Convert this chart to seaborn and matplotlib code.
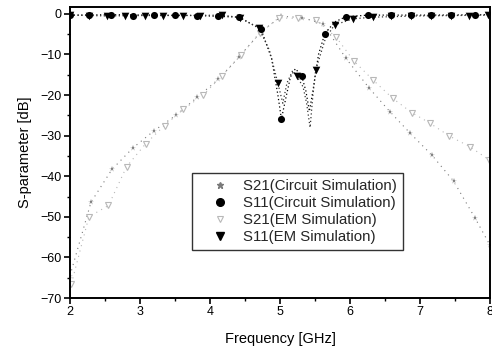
import matplotlib
matplotlib.use("Agg")
import matplotlib.pyplot as plt
from matplotlib.lines import Line2D
from matplotlib.ticker import MultipleLocator
import seaborn as sns

# ---------------- data ----------------
# S21, circuit simulation (markers + dotted line)
s21c_f = [2.0, 2.3, 2.6, 2.9, 3.2, 3.52, 3.82, 4.12, 4.41, 4.72, 5.02, 5.32,
          5.62, 5.94, 6.27, 6.57, 6.86, 7.17, 7.48, 7.79, 8.0]
s21c_db = [-64.5, -46.4, -38.3, -33.0, -28.8, -24.9, -20.5, -16.1, -10.7, -4.5,
           -0.6, -0.9, -2.5, -10.9, -18.2, -24.1, -29.4, -34.8, -41.2, -50.4, -57.0]

# S21, EM simulation
s21e_f = [2.02, 2.27, 2.55, 2.81, 3.08, 3.35, 3.62, 3.90, 4.17, 4.44, 4.71, 4.98,
          5.25, 5.52, 5.80, 6.06, 6.33, 6.61, 6.88, 7.14, 7.42, 7.71, 7.99]
s21e_db = [-66.5, -50.0, -47.2, -37.6, -32.0, -27.5, -23.5, -20.0, -15.3, -10.2,
           -4.8, -1.0, -1.1, -1.6, -5.7, -11.7, -16.3, -20.8, -24.3, -26.9, -30.1,
           -32.7, -36.0]

# S11, circuit simulation: marker positions
s11c_f = [2.0, 2.27, 2.59, 2.9, 3.2, 3.5, 3.81, 4.11, 4.41, 4.73, 5.02, 5.31,
          5.64, 5.94, 6.26, 6.58, 6.87, 7.16, 7.45, 7.79]
s11c_db = [-0.3, -0.3, -0.2, -0.4, -0.3, -0.3, -0.4, -0.5, -0.8, -3.8, -25.9,
           -15.3, -4.9, -0.7, -0.3, -0.3, -0.3, -0.3, -0.3, -0.2]
# S11, circuit simulation: dotted curve
s11c_curve_f = [2.0, 2.59, 3.2, 3.81, 4.41, 4.73, 4.88, 4.97, 5.02, 5.08, 5.15,
                5.22, 5.31, 5.37, 5.42, 5.47, 5.55, 5.64, 5.78, 5.94, 6.26, 7.0, 8.0]
s11c_curve_db = [-0.3, -0.2, -0.3, -0.4, -0.8, -3.8, -11.0, -20.0, -25.9, -21.0,
                 -15.5, -13.5, -15.3, -19.0, -24.0, -19.0, -10.0, -4.9, -2.0, -0.7,
                 -0.3, -0.3, -0.2]

# S11, EM simulation: marker positions
s11e_f = [2.0, 2.27, 2.53, 2.79, 3.07, 3.33, 3.61, 3.86, 4.17, 4.43, 4.70, 4.97,
          5.24, 5.51, 5.78, 6.05, 6.33, 6.59, 6.87, 7.16, 7.45, 7.70, 7.97]
s11e_db = [-0.3, -0.4, -0.5, -0.5, -0.4, -0.4, -0.4, -0.5, -0.3, -0.9, -3.5,
           -17.1, -15.3, -13.8, -2.7, -1.2, -0.8, -0.6, -0.5, -0.5, -0.5, -0.4, -0.3]
# S11, EM simulation: dotted curve
s11e_curve_f = [2.0, 2.53, 3.07, 3.61, 4.17, 4.43, 4.70, 4.85, 4.97, 5.04, 5.10,
                5.18, 5.24, 5.33, 5.38, 5.43, 5.47, 5.51, 5.65, 5.78, 6.05, 6.33,
                7.0, 8.0]
s11e_curve_db = [-0.3, -0.5, -0.4, -0.4, -0.3, -0.9, -3.5, -9.0, -17.1, -22.0,
                 -17.0, -14.0, -15.3, -18.0, -22.0, -28.0, -20.0, -13.8, -6.0,
                 -2.7, -1.2, -0.8, -0.5, -0.3]

labels = ["S21(Circuit Simulation)", "S11(Circuit Simulation)",
          "S21(EM Simulation)", "S11(EM Simulation)"]
x_ticks = [2, 3, 4, 5, 6, 7, 8]
y_ticks = [0, -10, -20, -30, -40, -50, -60, -70]

# ---------------- styling ----------------
sns.set_theme(style="ticks")
plt.rcParams["font.family"] = ["Liberation Sans", "DejaVu Sans"]

fig = plt.figure(figsize=(4.92, 3.47), dpi=100)
ax = fig.add_axes([70 / 492, 49 / 347, 420 / 492, 291 / 347])

c21c = "#7a7a7a"
c21e = "#b8b8b8"

# S21 circuit
sns.lineplot(x=s21c_f, y=s21c_db, ax=ax, color=c21c, linestyle=(0, (1, 4)),
             linewidth=0.8, sort=False, estimator=None, marker="*", markersize=5,
             markeredgewidth=0.3, legend=False)
# S21 EM
sns.lineplot(x=s21e_f, y=s21e_db, ax=ax, color=c21e, linestyle=(0, (1, 4)),
             linewidth=0.8, sort=False, estimator=None, marker="v", markersize=4.5,
             markerfacecolor="white", markeredgecolor=c21e, markeredgewidth=0.8,
             legend=False)
# S11 curves (dotted black)
sns.lineplot(x=s11c_curve_f, y=s11c_curve_db, ax=ax, color="black",
             linestyle=(0, (1, 2)), linewidth=0.9, sort=False, estimator=None,
             legend=False)
sns.lineplot(x=s11e_curve_f, y=s11e_curve_db, ax=ax, color="#333333",
             linestyle=(0, (1, 2)), linewidth=0.9, sort=False, estimator=None,
             legend=False)
# S11 markers
sns.scatterplot(x=s11c_f, y=s11c_db, ax=ax, color="black", marker="o", s=26,
                edgecolor="black", linewidth=0, legend=False, zorder=4)
sns.scatterplot(x=s11e_f, y=s11e_db, ax=ax, color="black", marker="v", s=30,
                edgecolor="black", linewidth=0, legend=False, zorder=4)

ax.set_xlim(2, 8)
ax.set_ylim(-70, 1.7)
ax.set_xticks(x_ticks)
ax.set_yticks(y_ticks)
ax.xaxis.set_minor_locator(MultipleLocator(0.5))
ax.yaxis.set_minor_locator(MultipleLocator(5))
ax.tick_params(axis="both", which="major", direction="out", length=4, width=1.2,
               labelsize=9, color="black", labelcolor="black", pad=2)
ax.tick_params(axis="both", which="minor", direction="out", length=2.5, width=1.0,
               color="black")
for sp in ax.spines.values():
    sp.set_visible(True)
    sp.set_linewidth(1.4)
    sp.set_color("black")

ax.set_xlabel("Frequency [GHz]", fontsize=10.5, labelpad=10, color="black")
ax.set_ylabel("S-parameter [dB]", fontsize=10.5, labelpad=6, color="black")

handles = [
    Line2D([], [], linestyle="none", marker="*", markersize=5, color=c21c),
    Line2D([], [], linestyle="none", marker="o", markersize=5.5, color="black"),
    Line2D([], [], linestyle="none", marker="v", markersize=4.5,
           markerfacecolor="white", markeredgecolor=c21e, markeredgewidth=0.8),
    Line2D([], [], linestyle="none", marker="v", markersize=5.5, color="black"),
]
leg = ax.legend(handles, labels, loc="upper left", bbox_to_anchor=(0.29, 0.43),
                borderaxespad=0, fontsize=10.8, frameon=True, fancybox=False,
                edgecolor="black", handlelength=3.0, handletextpad=0.0,
                labelspacing=0.2, borderpad=0.4)
leg.get_frame().set_linewidth(1.0)

fig.savefig("out.png", dpi=100)
